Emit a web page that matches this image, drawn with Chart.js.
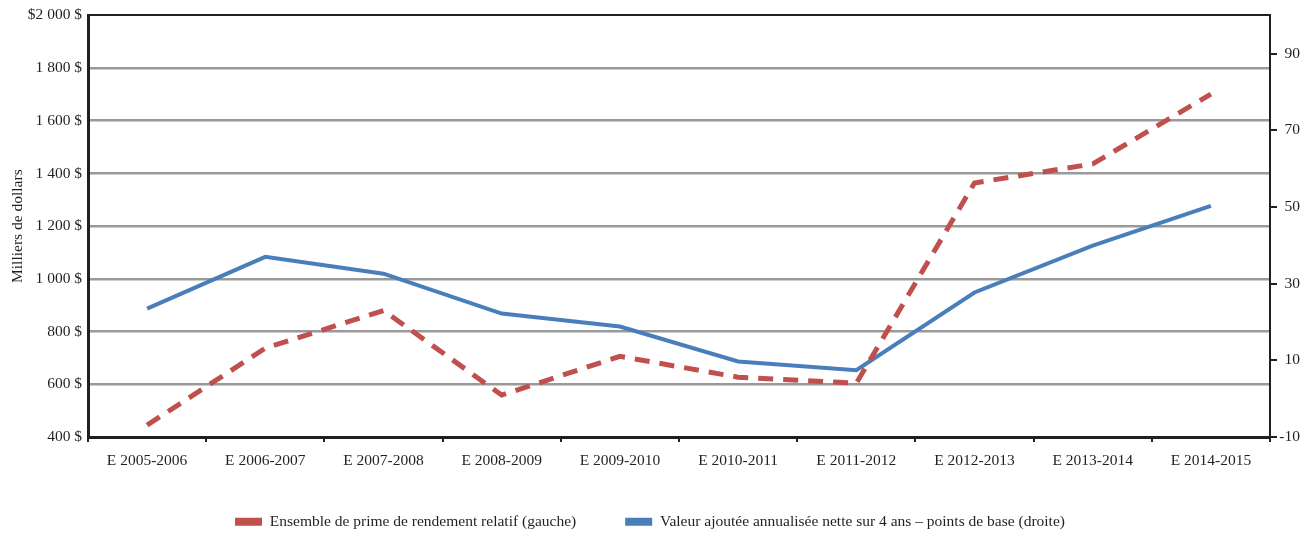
<!DOCTYPE html>
<html>
<head>
<meta charset="utf-8">
<script src="https://cdn.jsdelivr.net/npm/chart.js@4"></script>
<style>
html,body{margin:0;padding:0;background:#fff;}
#wrap{width:1309px;height:538px;}
</style>
</head>
<body>
<div id="wrap"><canvas id="c" width="1309" height="538"></canvas></div>
<script>
const categories = ["E 2005-2006","E 2006-2007","E 2007-2008","E 2008-2009","E 2009-2010","E 2010-2011","E 2011-2012","E 2012-2013","E 2013-2014","E 2014-2015"];
const primeValues = [445, 737, 880, 559, 706, 627, 604, 1364, 1436, 1701];
const valeurValues = [23.5, 37, 32.6, 22.2, 18.8, 9.7, 7.4, 27.7, 39.9, 50.3];
const leftTicks = [400, 600, 800, 1000, 1200, 1400, 1600, 1800, 2000];
const leftTickLabels = ["400 $","600 $","800 $","1 000 $","1 200 $","1 400 $","1 600 $","1 800 $","$2 000 $"];
const rightTicks = [-10, 10, 30, 50, 70, 90];
const seriesNames = ["Ensemble de prime de rendement relatif (gauche)", "Valeur ajoutée annualisée nette sur 4 ans – points de base (droite)"];
const yTitle = "Milliers de dollars";

const FONT = {family: "'Liberation Serif', 'DejaVu Serif', serif", size: 15.5};
const TXT = '#231f20';

new Chart(document.getElementById('c'), {
  type: 'line',
  data: {
    labels: categories,
    datasets: [
      {label: seriesNames[0], data: primeValues, yAxisID: 'y', borderColor: '#c0504d', backgroundColor: '#c0504d',
       borderWidth: 5, borderDash: [15, 10], pointRadius: 0, tension: 0, fill: false},
      {label: seriesNames[1], data: valeurValues, yAxisID: 'y1', borderColor: '#4a7ebb', backgroundColor: '#4a7ebb',
       borderWidth: 4, pointRadius: 0, tension: 0, fill: false}
    ]
  },
  options: {
    responsive: false,
    animation: false,
    layout: {padding: {left: 0, right: 9, top: 14, bottom: 0}},
    plugins: {
      legend: {
        position: 'bottom',
        maxHeight: 73,
        labels: {
          font: FONT, color: TXT, boxWidth: 27, boxHeight: 8, padding: 49,
          generateLabels: (chart) => chart.data.datasets.map((ds, i) => ({
            text: ds.label, fillStyle: ds.borderColor, strokeStyle: ds.borderColor,
            lineWidth: 0, lineDash: [], hidden: false, datasetIndex: i, fontColor: TXT
          }))
        }
      },
      tooltip: {enabled: false}
    },
    scales: {
      x: {
        offset: true,
        grid: {offset: true, drawOnChartArea: false, drawTicks: true, tickLength: 5, color: '#231f20', lineWidth: 2},
        border: {color: '#231f20', width: 3},
        ticks: {font: FONT, color: TXT, padding: 10, maxRotation: 0, autoSkip: false},
        afterFit: s => { s.height = 28; }
      },
      y: {
        position: 'left',
        min: 400, max: 2000,
        afterBuildTicks: s => { s.ticks = leftTicks.map(v => ({value: v})); },
        grid: {
          drawTicks: false,
          color: c => (c.tick && c.tick.value === 2000) ? '#231f20' : '#999999',
          lineWidth: c => (c.tick && c.tick.value === 2000) ? 2 : 2.5
        },
        border: {color: '#231f20', width: 3},
        ticks: {font: FONT, color: TXT, padding: 6,
          callback: (v) => { const i = leftTicks.indexOf(v); return i >= 0 ? leftTickLabels[i] : ''; }},
        title: {display: true, text: yTitle, font: FONT, color: TXT, padding: {top: 9, bottom: 4}},
        afterFit: s => { s.width = 88; }
      },
      y1: {
        position: 'right',
        min: -10, max: 100,
        afterBuildTicks: s => { s.ticks = rightTicks.map(v => ({value: v})); },
        grid: {drawOnChartArea: false, drawTicks: true, tickLength: 7, color: '#231f20', lineWidth: 2},
        border: {color: '#231f20', width: 2},
        ticks: {font: FONT, color: TXT, padding: 4, crossAlign: 'far'},
        afterFit: s => { s.width = 30; }
      }
    }
  }
});
</script>
</body>
</html>
